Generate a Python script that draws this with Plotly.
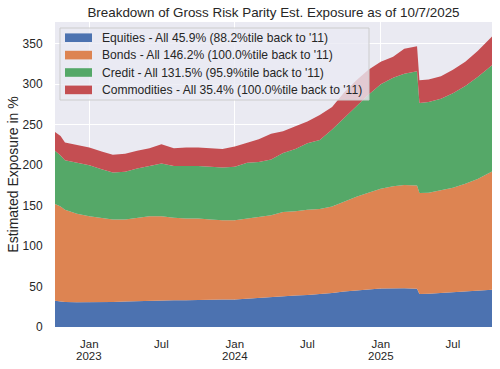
import plotly.graph_objects as go

# ---- data ----
dates = [
    "2022-10-07", "2022-10-21", "2022-11-01", "2022-12-01",
    "2023-01-01", "2023-02-01", "2023-03-01", "2023-04-01", "2023-05-01", "2023-06-01",
    "2023-07-01", "2023-08-01", "2023-09-01", "2023-10-01", "2023-11-01", "2023-12-01",
    "2024-01-01", "2024-02-01", "2024-03-01", "2024-04-01", "2024-05-01", "2024-06-01",
    "2024-07-01", "2024-08-01", "2024-09-01", "2024-10-01", "2024-11-01", "2024-12-01",
    "2025-01-01", "2025-02-01", "2025-03-01", "2025-04-02", "2025-04-08", "2025-05-01",
    "2025-06-01", "2025-07-01", "2025-08-01", "2025-09-01", "2025-10-07",
]
equities = [
    32.5, 31.5, 31.0, 30.5,
    30.5, 31.0, 31.0, 31.5, 32.0, 32.5,
    33.0, 33.0, 33.0, 33.5, 33.5, 34.0,
    34.0, 35.0, 36.0, 37.0, 38.5, 39.0,
    39.5, 40.5, 42.0, 44.0, 45.5, 46.5,
    47.5, 47.8, 47.8, 47.2, 40.8, 41.2,
    42.0, 43.0, 44.0, 45.0, 45.9,
]
bonds = [
    119.5, 117.5, 114.0, 109.5,
    106.5, 104.0, 102.0, 101.5, 103.0, 104.5,
    104.0, 102.0, 101.0, 100.5, 99.5, 98.0,
    98.0, 99.0, 100.0, 101.0, 103.5, 104.0,
    105.5, 105.5, 107.0, 111.0, 115.5, 119.5,
    123.5, 126.2, 127.7, 127.8, 124.7, 124.8,
    127.0, 129.0, 133.0, 138.0, 146.2,
]
credit = [
    66.0, 63.0, 61.0, 63.0,
    63.0, 60.0, 58.0, 59.0, 61.0, 62.0,
    65.0, 64.0, 65.0, 65.0, 65.0, 65.0,
    66.0, 69.0, 68.0, 69.0, 73.0, 77.0,
    82.0, 85.0, 95.0, 103.0, 112.0, 121.0,
    129.0, 134.0, 137.5, 141.0, 111.5, 112.0,
    113.0, 117.0, 121.0, 126.0, 131.5,
]
commodities = [
    23.0, 24.0, 22.0, 22.0,
    22.0, 22.0, 22.0, 22.0, 22.0, 22.0,
    24.0, 22.0, 23.0, 23.0, 23.0, 23.0,
    25.0, 25.0, 28.0, 32.0, 27.0, 28.0,
    27.0, 31.0, 28.0, 32.0, 32.0, 31.0,
    28.0, 26.0, 31.0, 31.0, 28.0, 28.0,
    28.0, 29.0, 30.0, 32.0, 35.4,
]

series_names = [
    "Equities - All 45.9% (88.2%tile back to '11)",
    "Bonds - All 146.2% (100.0%tile back to '11)",
    "Credit - All 131.5% (95.9%tile back to '11)",
    "Commodities - All 35.4% (100.0%tile back to '11)",
]
colors = ["#4C72B0", "#DD8452", "#55A868", "#C44E52"]

month_tick_vals = ["2023-01-01", "2023-07-01", "2024-01-01", "2024-07-01", "2025-01-01", "2025-07-01"]
month_tick_text = ["Jan", "Jul", "Jan", "Jul", "Jan", "Jul"]
year_tick_vals = ["2023-01-01", "2024-01-01", "2025-01-01"]
year_tick_text = ["2023", "2024", "2025"]
y_tick_vals = [0, 50, 100, 150, 200, 250, 300, 350]

title_text = "Breakdown of Gross Risk Parity Est. Exposure as of 10/7/2025"
y_title = "Estimated Exposure in %"

# ---- figure ----
W, H = 500, 369
ML, MR, MT, MB = 55, 8, 22, 42
PW, PH = W - ML - MR, H - MT - MB


def px_x(p):
    return (p - ML) / PW


def px_y(p):
    return (H - MB - p) / PH


fig = go.Figure()
for name, vals, col in zip(series_names, [equities, bonds, credit, commodities], colors):
    fig.add_trace(go.Scatter(
        x=dates, y=vals, name=name, mode="lines",
        stackgroup="one", line=dict(width=0, color=col), fillcolor=col,
        showlegend=False,
    ))

FONT = "Liberation Sans, Arial, Helvetica, sans-serif"
TXT = "#262626"

# custom legend (matplotlib-like: tight rows, translucent frame)
shapes = [dict(type="rect", xref="paper", yref="paper",
               x0=px_x(60), x1=px_x(369), y0=px_y(100), y1=px_y(28),
               fillcolor="rgba(234,234,242,0.8)", line=dict(color="#CCCCCC", width=1),
               layer="above")]
annotations = []
row_centers = [37.7, 55.1, 72.5, 89.9]
for name, col, cy in zip(series_names, colors, row_centers):
    shapes.append(dict(type="rect", xref="paper", yref="paper",
                       x0=px_x(65), x1=px_x(92), y0=px_y(cy + 4.3), y1=px_y(cy - 4.3),
                       fillcolor=col, line=dict(width=0), layer="above"))
    annotations.append(dict(text=name, xref="paper", yref="paper",
                            x=px_x(100), y=px_y(cy), xanchor="left", yanchor="middle",
                            showarrow=False, font=dict(size=12.1, color=TXT, family=FONT)))

# year labels under the January ticks (second line of the date labels)
for yv, yt in zip(year_tick_vals, year_tick_text):
    annotations.append(dict(text=yt, xref="x", yref="paper", x=yv, y=px_y(355.5),
                            xanchor="center", yanchor="middle", showarrow=False,
                            font=dict(size=11.5, color=TXT, family=FONT)))

fig.update_layout(
    width=W, height=H,
    margin=dict(l=ML, r=MR, t=MT, b=MB),
    paper_bgcolor="white", plot_bgcolor="#EAEAF2",
    font=dict(family=FONT, color=TXT, size=12),
    title=dict(text=title_text, x=0.5, xanchor="center", xref="paper",
               y=1 - 12 / H, yanchor="middle", yref="container",
               font=dict(size=13.4, color=TXT)),
    showlegend=False,
    shapes=shapes,
    annotations=annotations,
)
fig.update_layout(
    xaxis=dict(
        range=[dates[0], dates[-1]], type="date", automargin=False,
        tickmode="array", tickvals=month_tick_vals, ticktext=month_tick_text,
        showgrid=False, zeroline=False, showline=False,
        ticks="outside", ticklen=6, tickcolor="rgba(0,0,0,0)",
        tickfont=dict(size=11.5, color=TXT),
        minor=dict(tickmode="array", tickvals=year_tick_vals, showgrid=True,
                   gridcolor="white", gridwidth=1, ticks=""),
    ),
    yaxis=dict(
        range=[0, 377], tickmode="array", tickvals=y_tick_vals, automargin=False,
        showgrid=True, gridcolor="white", gridwidth=1, zeroline=False, showline=False,
        ticks="outside", ticklen=9, tickcolor="rgba(0,0,0,0)",
        tickfont=dict(size=12, color=TXT),
        title=dict(text=y_title, font=dict(size=14, color=TXT), standoff=0),
    ),
)

fig.write_html("out.html", config={"displayModeBar": False},
               post_script="document.body.style.margin='0';")
